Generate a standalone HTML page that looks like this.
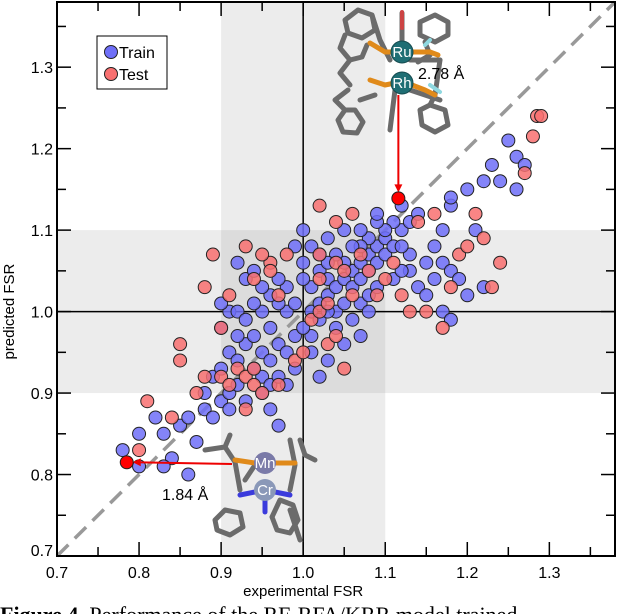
<!DOCTYPE html>
<html><head><meta charset="utf-8">
<style>
body{margin:0;background:#fff;width:640px;height:614px;overflow:hidden;font-family:"Liberation Sans",sans-serif}
svg{display:block}
</style></head>
<body>
<svg id="chart" width="640" height="614" viewBox="0 0 640 614" xmlns="http://www.w3.org/2000/svg">
</svg>
<script>
const xTicks=[0.7,0.8,0.9,1.0,1.1,1.2,1.3];
const yTicks=[0.7,0.8,0.9,1.0,1.1,1.2,1.3];
const xTickLabels=["0.7","0.8","0.9","1.0","1.1","1.2","1.3"];
const yTickLabels=["0.7","0.8","0.9","1.0","1.1","1.2","1.3"];
const trainX=[0.78,0.80,0.80,0.82,0.83,0.84,0.83,0.85,0.86,0.87,0.86,0.88,0.89,0.88,0.90,0.91,0.91,0.89,0.92,0.93,0.90,0.91,0.92,0.93,0.94,0.95,0.92,0.90,0.91,0.90,0.92,0.93,0.94,0.95,0.96,0.97,0.96,0.95,0.94,0.95,0.96,0.97,0.98,0.99,0.98,0.97,0.99,1.01,1.00,1.01,1.02,1.01,1.00,1.02,1.03,1.03,1.04,1.05,1.04,1.05,1.06,1.05,1.04,1.03,1.06,1.07,1.07,1.08,1.08,1.09,1.09,1.10,1.10,1.11,1.12,1.11,1.12,1.13,1.14,1.10,1.09,1.08,1.07,1.06,1.02,1.00,0.98,0.97,0.96,1.01,1.04,1.05,1.03,1.02,1.07,1.08,1.09,1.11,1.13,1.14,1.15,1.16,1.17,1.18,1.19,1.17,1.18,1.20,1.22,1.16,1.17,1.18,1.18,1.21,1.20,1.22,1.23,1.25,1.24,1.26,1.27,1.26,1.12,1.13,1.15,0.99,1.00,1.03,1.05,1.07,1.09,1.12,1.08,1.06,1.07,1.01,0.98,0.96,0.97,0.99,1.02,1.03,0.93,0.94,0.92,0.95];
const trainY=[0.83,0.81,0.85,0.87,0.85,0.82,0.81,0.86,0.87,0.84,0.80,0.88,0.87,0.90,0.89,0.90,0.88,0.92,0.91,0.89,0.93,0.95,0.94,0.96,0.93,0.92,0.97,0.98,1.00,1.01,1.00,0.99,0.97,0.95,0.94,0.96,0.98,1.00,1.01,0.90,0.91,0.92,0.95,0.97,1.00,1.01,0.93,0.97,0.98,1.00,1.01,1.03,1.04,1.05,1.04,1.02,1.00,1.01,1.03,1.04,1.05,1.06,1.07,1.06,1.03,1.04,1.06,1.05,1.07,1.08,1.06,1.07,1.09,1.08,1.10,1.11,1.13,1.11,1.12,1.10,1.11,1.09,1.08,1.08,1.07,1.06,1.03,1.04,1.02,1.08,0.98,0.96,0.94,0.92,1.01,1.02,1.03,1.04,1.05,1.03,1.02,1.04,1.06,1.05,1.04,1.00,0.99,1.02,1.03,1.08,1.10,1.13,1.14,1.10,1.15,1.16,1.18,1.21,1.16,1.19,1.18,1.15,1.05,1.07,1.06,1.08,1.10,1.09,1.10,1.10,1.12,1.08,1.00,0.99,0.97,0.95,0.91,0.88,0.86,1.01,0.99,1.00,1.04,1.05,1.06,1.03];
const testX=[0.80,0.81,0.84,0.85,0.87,0.88,0.90,0.91,0.92,0.93,0.94,0.94,0.95,0.93,0.97,0.99,1.00,1.01,1.02,1.03,1.03,1.04,1.05,0.96,0.94,0.95,0.98,0.93,0.89,0.91,0.88,0.97,0.96,1.02,1.04,1.05,1.06,1.02,1.04,1.07,1.09,1.11,1.12,1.13,1.14,1.16,1.19,1.20,1.21,1.22,1.24,1.23,1.18,1.17,1.15,1.27,1.285,1.29,1.28,1.08,1.10,1.06,1.02,0.90,0.85];
const testY=[0.83,0.89,0.87,0.96,0.90,0.92,0.92,0.91,0.93,0.92,0.91,0.93,0.90,0.88,0.91,0.94,0.95,0.99,1.00,1.01,0.96,0.97,0.93,1.06,1.04,1.07,1.07,1.08,1.07,1.02,1.03,1.02,1.05,1.07,1.06,1.05,1.12,1.13,1.11,1.07,1.02,1.06,1.02,1.00,1.11,1.12,1.07,1.08,1.12,1.09,1.06,1.03,1.03,0.98,1.00,1.17,1.24,1.24,1.215,1.05,1.04,1.02,1.04,0.98,0.94];
const highlightX=[0.785,1.116];
const highlightY=[0.815,1.139];

const NS="http://www.w3.org/2000/svg";
const svg=document.getElementById('chart');
const L=57,R=615,T=2,B=556,X0=0.7,X1=1.38,Y0=0.7,Y1=1.38;
const sx=v=>L+(v-X0)/(X1-X0)*(R-L);
const sy=v=>B-(v-Y0)/(Y1-Y0)*(B-T);
function mk(tag,attrs,parent){const e=document.createElementNS(NS,tag);for(const k in attrs)e.setAttribute(k,attrs[k]);(parent||svg).appendChild(e);return e;}

// bands
const bands=mk('g',{});


mk('rect',{x:sx(0.9),y:T,width:sx(1.1)-sx(0.9),height:B-T,fill:'#ececec'},bands);
mk('rect',{x:L,y:sy(1.1),width:R-L,height:sy(0.9)-sy(1.1),fill:'#ececec'},bands);
mk('rect',{x:sx(0.9),y:sy(1.1),width:sx(1.1)-sx(0.9),height:sy(0.9)-sy(1.1),fill:'#dcdcdc'},bands);
// diagonal
const diag=mk('line',{x1:sx(0.7),y1:sy(0.7),x2:sx(1.38),y2:sy(1.38),stroke:'#999',"stroke-width":3.5,"stroke-dasharray":"16,9"});


// crosshair
const vl=mk('line',{x1:sx(1.0),y1:T,x2:sx(1.0),y2:B,stroke:'#000',"stroke-width":1.5});


const hl=mk('line',{x1:L,y1:sy(1.0),x2:R,y2:sy(1.0),stroke:'#000',"stroke-width":1.5});



// points
const gTrain=mk('g',{});


trainX.forEach((v,i)=>{const c=mk('circle',{cx:sx(v),cy:sy(trainY[i]),r:6.5,fill:'#6f6ff8',"fill-opacity":0.85,stroke:'#222',"stroke-width":1},gTrain);

});
const gTest=mk('g',{});


testX.forEach((v,i)=>{const c=mk('circle',{cx:sx(v),cy:sy(testY[i]),r:6.5,fill:'#f87070',"fill-opacity":0.85,stroke:'#222',"stroke-width":1},gTest);

});

// molecules (decorative)
function mol(parent,segs,color,w){segs.forEach(s=>{mk('polyline',{points:s,fill:'none',stroke:color,"stroke-width":w,"stroke-linecap":"round","stroke-linejoin":"round"},parent);});}
const m1=mk('g',{});


mol(m1,["345,20 358,10 372,15 375,30 362,38 348,33 345,20","345,35 340,48 350,60 362,57 367,45","350,60 340,73 350,85","372,15 380,40 390,60","448,22 435,15 420,22 420,35 435,42 448,35 448,22","425,42 430,55 418,62","420,110 430,105 445,110 448,125 435,132 422,125 420,110","345,110 335,100 348,90","345,110 338,120 343,132 357,133 363,122 355,110 345,110","402,13 402,45","410,60 425,60 440,60","395,90 390,130","410,90 440,100","375,95 360,100","440,60 435,95 430,105"],'#6b6b6b',5);
mol(m1,["370,43 385,52 395,52","370,80 385,85 395,83","412,52 430,52 438,55","412,85 425,90 435,95"],'#e08a1a',5);
mol(m1,["402,12 402,28"],'#c44',4);
mol(m1,["425,45 430,40","430,85 440,92"],'#8fd8e0',4);
[[402,52,'Ru'],[402,83,'Rh']].forEach(a=>{mk('circle',{cx:a[0],cy:a[1],r:11,fill:'#1f6e74',stroke:'#164c50',"stroke-width":1},m1);
const t=mk('text',{x:a[0],y:a[1]+5,"text-anchor":"middle","font-size":15,fill:'#fff'},m1);t.textContent=a[2];});
const m2=mk('g',{});


mol(m2,["205,450 225,447 230,435","225,447 235,462 240,490","300,440 305,455 315,460","290,440 295,465 290,490","215,520 225,510 240,513 243,527 230,535 217,530 215,520","280,500 293,505 298,520 290,533 277,530 272,517 280,500","290,510 300,540","245,480 255,465"],'#6b6b6b',5);
mol(m2,["235,460 255,463","275,463 295,463"],'#e08a1a',5);
mol(m2,["240,495 255,492","275,492 290,495","265,500 265,512"],'#3b3bdc',5);
[[265,463,'Mn','#7a7aa8'],[265,490,'Cr','#8a98b8']].forEach(a=>{mk('circle',{cx:a[0],cy:a[1],r:11,fill:a[3]},m2);
const t=mk('text',{x:a[0],y:a[1]+5,"text-anchor":"middle","font-size":15,fill:'#fff'},m2);t.textContent=a[2];});

// arrows
const a1=mk('line',{x1:sx(highlightX[1]),y1:95,x2:sx(highlightX[1]),y2:sy(highlightY[1])-8,stroke:'#e00',"stroke-width":2});


mk('polygon',{points:`${sx(highlightX[1])-4},${sy(highlightY[1])-14} ${sx(highlightX[1])+4},${sy(highlightY[1])-14} ${sx(highlightX[1])},${sy(highlightY[1])-6}`,fill:'#e00'});
const a2=mk('line',{x1:232,y1:464,x2:sx(highlightX[0])+8,y2:sy(highlightY[0]),stroke:'#e00',"stroke-width":2});


mk('polygon',{points:`${sx(highlightX[0])+14},${sy(highlightY[0])-4} ${sx(highlightX[0])+14},${sy(highlightY[0])+4} ${sx(highlightX[0])+6},${sy(highlightY[0])}`,fill:'#e00'});
highlightX.forEach((v,i)=>{const c=mk('circle',{cx:sx(v),cy:sy(highlightY[i]),r:6.5,fill:'#f00',stroke:'#222',"stroke-width":1});

});
let t=mk('text',{x:418,y:79,"font-size":16});t.textContent='2.78 Å';


t=mk('text',{x:162,y:500,"font-size":16});t.textContent='1.84 Å';



// axes frame
const fr=mk('rect',{x:L,y:T,width:R-L,height:B-T,fill:'none',stroke:'#000',"stroke-width":2});


const ax=mk('g',{});


for(let v=0.7;v<1.38;v+=0.05){const big=Math.abs(v*10-Math.round(v*10))<0.01;const len=big?14:9;
mk('line',{x1:sx(v),y1:B,x2:sx(v),y2:B-len,stroke:'#000',"stroke-width":1.5},ax);
mk('line',{x1:sx(v),y1:T,x2:sx(v),y2:T+len,stroke:'#000',"stroke-width":1.5},ax);
mk('line',{x1:L,y1:sy(v),x2:L+len,y2:sy(v),stroke:'#000',"stroke-width":1.5},ax);
mk('line',{x1:R,y1:sy(v),x2:R-len,y2:sy(v),stroke:'#000',"stroke-width":1.5},ax);}
xTicks.forEach((v,i)=>{const e=mk('text',{x:sx(v),y:B+22,"text-anchor":"middle","font-size":16},ax);e.textContent=xTickLabels[i];

});
yTicks.forEach((v,i)=>{const e=mk('text',{x:L-4,y:sy(v)+(i===0?0:6),"text-anchor":"end","font-size":16},ax);e.textContent=yTickLabels[i];

});
t=mk('text',{x:sx(1.0),y:596,"text-anchor":"middle","font-size":15});t.textContent='experimental FSR';


t=mk('text',{x:14,y:sy(1.0),"text-anchor":"middle","font-size":15,transform:`rotate(-90 14 ${sy(1.0)})`});t.textContent='predicted FSR';



// legend
const lg=mk('g',{});


mk('rect',{x:97,y:36,width:70,height:53,fill:'#fff',stroke:'#000',"stroke-width":1},lg);
mk('circle',{cx:111,cy:52,r:6.5,fill:'#6f6ff8',stroke:'#222'},lg);
mk('circle',{cx:111,cy:74,r:6.5,fill:'#f87070',stroke:'#222'},lg);
t=mk('text',{x:119,y:58,"font-size":16},lg);t.textContent='Train';


t=mk('text',{x:119,y:80,"font-size":16},lg);t.textContent='Test';



// caption
t=mk('text',{x:0,y:622,"font-size":22,"font-family":"Liberation Serif, serif"});
t.innerHTML='<tspan font-weight="bold">Figure 4.</tspan> Performance of the RF-RFA/KRR model trained';


</script>
</body></html>
